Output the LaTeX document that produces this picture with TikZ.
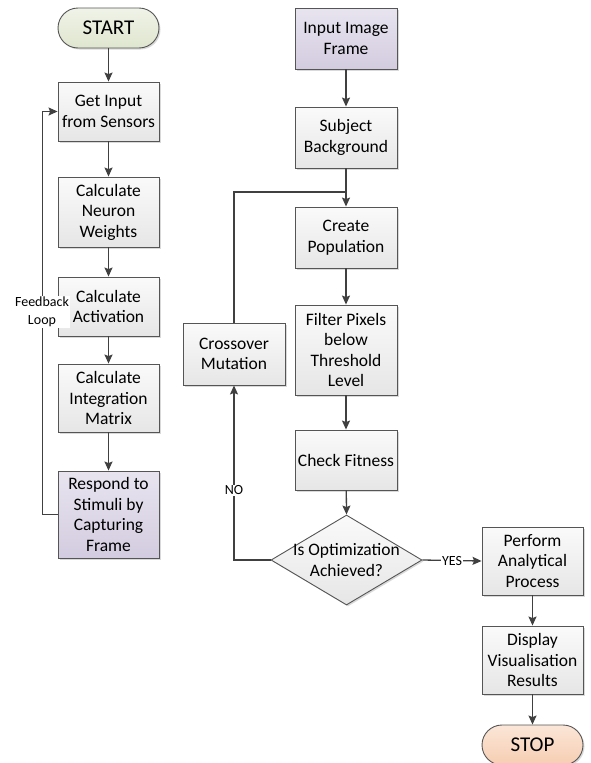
\documentclass[tikz,border=0pt]{standalone}
\usepackage{fontspec}
\setmainfont{Carlito}
\usetikzlibrary{arrows.meta,shapes.geometric,shadows}
\definecolor{edge}{HTML}{555555}
\definecolor{arrc}{HTML}{404040}
\definecolor{boxtop}{HTML}{FAFAFA}
\definecolor{boxbot}{HTML}{E6E6E6}
\definecolor{purtop}{HTML}{E8E4EF}
\definecolor{purbot}{HTML}{D3CCE0}
\definecolor{grntop}{HTML}{F0F3E8}
\definecolor{grnbot}{HTML}{DFE6CF}
\definecolor{orgtop}{HTML}{FBE6D8}
\definecolor{orgbot}{HTML}{F6CDB1}
\tikzset{
  proc/.style={draw=edge, line width=0.9pt, top color=boxtop, bottom color=boxbot,
    minimum width=101pt, inner sep=1pt, align=center, font=\fontsize{17.5}{20.5}\selectfont,
    drop shadow={shadow xshift=1.5pt, shadow yshift=-1.5pt, fill=black, opacity=0.15}},
  purp/.style={proc, top color=purtop, bottom color=purbot},
  term/.style={proc, rounded corners=20pt, minimum height=40pt, font=\fontsize{21}{24}\selectfont},
  arr/.style={draw=arrc, line width=1.3pt, -{Stealth[length=9pt,width=8pt,inset=1.5pt]}},
  ln/.style={draw=arrc, line width=1.3pt},
  lab/.style={fill=white, inner sep=1pt, font=\fontsize{14}{18}\selectfont, align=center}
}
\begin{document}
\begin{tikzpicture}[x=1pt,y=-1pt]
\useasboundingbox (0,0) rectangle (590,763);
% left column
\node[term, top color=grntop, bottom color=grnbot] (start) at (108.5,28) {START};
\node[proc, minimum height=59pt] (get) at (108.5,111.5) {Get Input\\from Sensors};
\node[proc, minimum height=70pt] (neuron) at (108.5,212) {Calculate\\Neuron\\Weights};
\node[proc, minimum height=59pt] (activ) at (108.5,306.5) {Calculate\\Activation};
\node[proc, minimum height=68pt] (integ) at (108.5,398) {Calculate\\Integration\\Matrix};
\node[purp, minimum height=87pt] (resp) at (108.5,514.5) {Respond to\\Stimuli by\\Capturing\\Frame};
% right column
\node[purp, minimum width=102pt, minimum height=61pt] (input) at (346,38.5) {Input Image\\Frame};
\node[proc, minimum width=102pt, minimum height=61pt] (subj) at (346,137.5) {Subject\\Background};
\node[proc, minimum width=102pt, minimum height=61pt] (create) at (346,237.5) {Create\\Population};
\node[proc, minimum width=102pt, minimum height=90pt] (filter) at (346,350) {Filter Pixels\\below\\Threshold\\Level};
\node[proc, minimum width=102pt, minimum height=60pt] (check) at (346,460) {Check Fitness};
\node[proc, minimum width=102pt, minimum height=62pt] (cross) at (234,354) {Crossover\\Mutation};
\node[draw=edge, line width=0.9pt, diamond, top color=boxtop, bottom color=boxbot,
  minimum width=151pt, minimum height=90pt, inner sep=0pt,
  drop shadow={shadow xshift=1.5pt, shadow yshift=-1.5pt, fill=black, opacity=0.15}] (dia) at (346.5,560) {};
\node[align=center, font=\fontsize{17.5}{20.5}\selectfont] (diatext) at (dia.center) {Is Optimization\\Achieved?};
\node[proc, minimum height=68pt] (perf) at (532.5,561) {Perform\\Analytical\\Process};
\node[proc, minimum height=68pt] (disp) at (532.5,660) {Display\\Visualisation\\Results};
\node[term, top color=orgtop, bottom color=orgbot] (stop) at (532.5,745) {STOP};
% connectors left
\draw[arr] (start) -- (get);
\draw[arr] (get) -- (neuron);
\draw[arr] (neuron) -- (activ);
\draw[arr] (activ) -- (integ);
\draw[arr] (integ) -- (resp);
\draw[arr] (resp.west) -- ++(-15,0) |- (get.west);
\node[lab] (fb) at (42,312) {Feedback\\Loop};
% connectors right
\coordinate (j) at (346,192);
\draw[arr] (input) -- (subj);
\draw[ln] (subj.south) -- (j);
\draw[arr] (j) -- (create.north);
\draw[ln] (cross.north) |- (j);
\draw[arr] (create) -- (filter);
\draw[arr] (filter) -- (check);
\draw[arr] (check) -- (dia.north);
\draw[arr] (dia.west) -| node[pos=0.7, lab] (no) {NO} (cross.south);
\draw[arr] (dia.east) -- node[lab] (yes) {YES} (perf.west);
\draw[arr] (perf) -- (disp);
\draw[arr] (disp) -- (stop);
\end{tikzpicture}
\end{document}
